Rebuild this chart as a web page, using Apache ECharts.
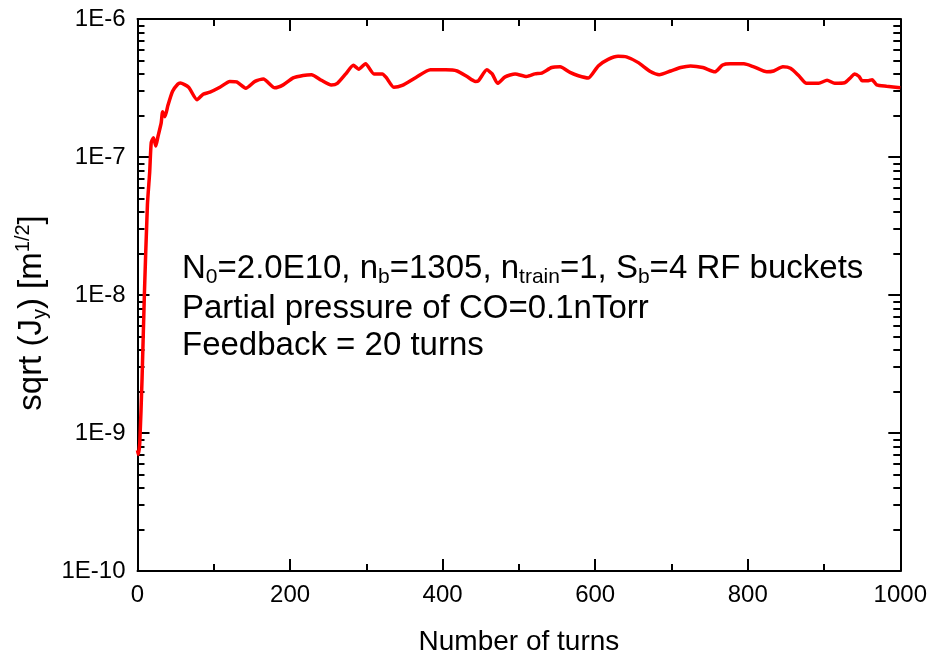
<!DOCTYPE html>
<html>
<head>
<meta charset="utf-8">
<script src="https://cdn.jsdelivr.net/npm/echarts@6/dist/echarts.min.js"></script>
<style>
html,body{margin:0;padding:0;background:#fff;overflow:hidden;}
#chart{width:930px;height:661px;}
</style>
</head>
<body>
<div id="chart"></div>
<script>
// ---- data ----
var turns = [0,1,3,6,9,13,16,18,21,24,27,31,33,36,40,46,53,56,67,78,86,95,108,121,130,142,154,165,180,191,204,217,228,241,254,262,273,283,290,299,310,321,326,336,347,365,384,404,419,432,443,447,458,465,472,482,495,510,521,530,543,554,567,578,591,604,617,630,641,656,673,684,699,712,725,741,757,767,777,795,808,825,834,846,856,867,877,893,904,914,927,935,940,946,950,958,963,969,982,1000];
var sqrtJy = [7.5e-10,7.0e-10,8.5e-10,2.5e-9,1.0e-8,4.5e-8,7.8e-8,1.27e-7,1.38e-7,1.2e-7,1.42e-7,1.76e-7,2.13e-7,1.96e-7,2.38e-7,3.0e-7,3.38e-7,3.44e-7,3.2e-7,2.6e-7,2.85e-7,2.95e-7,3.2e-7,3.53e-7,3.5e-7,3.15e-7,3.53e-7,3.67e-7,3.17e-7,3.33e-7,3.74e-7,3.9e-7,3.95e-7,3.6e-7,3.33e-7,3.42e-7,4.0e-7,4.62e-7,4.33e-7,4.74e-7,4.0e-7,4.0e-7,3.77e-7,3.2e-7,3.3e-7,3.77e-7,4.28e-7,4.28e-7,4.2e-7,3.83e-7,3.53e-7,3.57e-7,4.28e-7,4.0e-7,3.42e-7,3.81e-7,4.0e-7,3.83e-7,4.0e-7,4.06e-7,4.45e-7,4.5e-7,4.1e-7,3.88e-7,3.74e-7,4.57e-7,5.1e-7,5.37e-7,5.32e-7,4.85e-7,4.14e-7,3.95e-7,4.2e-7,4.45e-7,4.57e-7,4.45e-7,4.14e-7,4.64e-7,4.74e-7,4.74e-7,4.5e-7,4.14e-7,4.2e-7,4.5e-7,4.4e-7,3.88e-7,3.42e-7,3.42e-7,3.6e-7,3.42e-7,3.45e-7,3.77e-7,4.0e-7,3.83e-7,3.57e-7,3.57e-7,3.63e-7,3.33e-7,3.26e-7,3.18e-7];
var yMajor = [1e-10,1e-9,1e-8,1e-7,1e-6];
var yMinor = [2e-10,3e-10,4e-10,5e-10,6e-10,7e-10,8e-10,9e-10,2e-9,3e-9,4e-9,5e-9,6e-9,7e-9,8e-9,9e-9,2e-8,3e-8,4e-8,5e-8,6e-8,7e-8,8e-8,9e-8,2e-7,3e-7,4e-7,5e-7,6e-7,7e-7,8e-7,9e-7];
var annotLines = ['N{sub|0}=2.0E10, n{sub|b}=1305, n{sub|train}=1, S{sub|b}=4 RF buckets','Partial pressure of CO=0.1nTorr','Feedback = 20 turns'];

var FONT = "'Liberation Sans',Arial,sans-serif";
var chart = echarts.init(document.getElementById('chart'), null, {renderer:'canvas', width:930, height:661});
var lineStyleAx = {color:'#000', width:2};
function xAx(pos, showLabel){
  return {
    type:'value', position:pos, min:0, max:1000, interval:200,
    axisLine:{show:true, onZero:false, lineStyle:lineStyleAx},
    axisTick:{show:true, inside:true, length:12, lineStyle:{color:'#000', width:2}},
    minorTick:{show:true, splitNumber:2, length:7, lineStyle:{color:'#000', width:2}},
    splitLine:{show:false}, minorSplitLine:{show:false},
    axisLabel:{show:showLabel, fontFamily:FONT, fontSize:24, color:'#000', margin:12,
      formatter:function(v){ return String(v); }},
    name: showLabel ? 'Number of turns' : '',
    nameLocation:'middle', nameGap:57,
    nameTextStyle:{fontFamily:FONT, fontSize:28, color:'#000'}
  };
}
function yAx(pos, major, showLabel){
  var o = {
    type:'log', logBase:10, position:pos, min:1e-10, max:1e-6,
    axisLine:{show:major, onZero:false, lineStyle:lineStyleAx},
    axisTick:{show:true, inside:true, length: major?12:7, lineStyle:{color:'#000', width:2},
      customValues: major ? yMajor : yMinor},
    splitLine:{show:false},
    axisLabel:{show:showLabel, fontFamily:FONT, fontSize:24, color:'#000', margin:12,
      customValues: yMajor,
      formatter:function(v){ return '1E' + Math.round(Math.log10(v)); }}
  };
  if (showLabel) {
    o.name = 'sqrt (J{sub|y}) [m{sup|1/2}]';
    o.nameLocation = 'middle';
    o.nameGap = 76;
    o.nameRotate = 90;
    o.nameTextStyle = {fontFamily:FONT, fontSize:33, color:'#000', padding:[0,36,0,0],
      rich:{
        sub:{fontFamily:FONT, fontSize:20, color:'#000', padding:[17,0,0,0]},
        sup:{fontFamily:FONT, fontSize:20, color:'#000', padding:[0,0,17,0]}
      }};
  }
  return o;
}
var richAnn = {
  sub:{fontFamily:FONT, fontSize:21, color:'#000', padding:[18,0,0,0]}
};
var option = {
  animation:false,
  backgroundColor:'#fff',
  grid:{left:137.5, right:27, top:19, bottom:79, containLabel:false},
  xAxis:[xAx('bottom', true), xAx('top', false)],
  yAxis:[yAx('left', true, true), yAx('left', false, false), yAx('right', true, false), yAx('right', false, false)],
  series:[{
    type:'line', xAxisIndex:0, yAxisIndex:0,
    data: turns.map(function(t,i){ return [t, sqrtJy[i]]; }),
    showSymbol:false, smooth:0.2,
    lineStyle:{color:'#ff0000', width:3.5},
    clip:true
  }],
  graphic: annotLines.map(function(txt, i){
    return {
      type:'text', left:182, top:[252, 292, 329][i],
      style:{text:txt, fontFamily:FONT, fontSize:33, fill:'#000', rich:richAnn}
    };
  })
};
chart.setOption(option);
</script>
</body>
</html>
